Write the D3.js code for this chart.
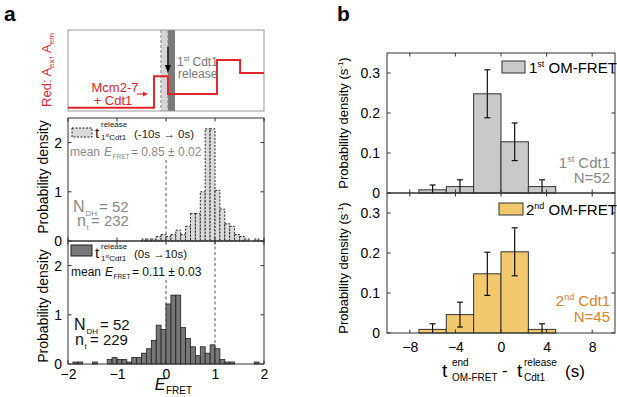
<!DOCTYPE html>
<html><head><meta charset="utf-8">
<script src="https://cdn.jsdelivr.net/npm/d3@7"></script>
<style>
html,body{margin:0;padding:0;background:#fff;}
svg{display:block;font-family:"Liberation Sans",Arial,sans-serif;}
</style></head>
<body><svg id="c" width="617" height="397"></svg>
<script>
// ---------- DATA ----------
// Panel a: E_FRET histograms (bin start, width 0.1)
const eBinStarts = [-2.0,-1.9,-1.8,-1.7,-1.6,-1.5,-1.4,-1.3,-1.2,-1.1,-1.0,-0.9,-0.8,-0.7,-0.6,-0.5,-0.4,-0.3,-0.2,-0.1,
                    0.0,0.1,0.2,0.3,0.4,0.5,0.6,0.7,0.8,0.9,1.0,1.1,1.2,1.3,1.4,1.5,1.6,1.7,1.8,1.9];
const eBinWidth = 0.1;
const densityBefore = [0,0,0,0,0,0,0,0,0,0,0,0,0,0,0,0.04,0.04,0.04,0.09,0.13,
                       0.09,0.13,0.22,0.13,0.30,0.56,0.56,1.00,2.28,2.28,1.03,0.65,0.35,0.30,0.13,0.09,0.04,0,0.04,0];
const densityAfter  = [0,0.04,0.04,0,0,0.04,0,0,0.09,0.13,0.09,0.09,0.04,0.13,0.13,0.22,0.31,0.48,0.79,0.70,
                       1.22,1.40,1.40,0.74,0.52,0.35,0.17,0.35,0.22,0.39,0.31,0.09,0.04,0.04,0,0,0,0,0.04,0];
const eTicks = [-2,-1,0,1,2];
const densTicksA = [0,1,2];
const refLines = [0,1];
// Schematic trace (arbitrary time units 0-100, level 0-1)
const traceT = [0,43.9,43.9,51,51,76,76,87.8,87.8,100];
const traceLevel = [0.04,0.04,0.43,0.43,0.21,0.21,0.63,0.63,0.47,0.47];
// Panel b: time-difference histograms (bin start, width 2.4 s)
const dtBinStarts = [-7.2,-4.8,-2.4,0,2.4];
const dtBinWidth = 2.4;
const firstDensity = [0.008,0.016,0.248,0.128,0.016];
const firstErr     = [0.012,0.017,0.060,0.047,0.017];
const secondDensity = [0.009,0.046,0.148,0.203,0.009];
const secondErr     = [0.014,0.031,0.054,0.060,0.014];
const dtTicks = [-8,-4,0,4,8];
const densTicksB = [0,0.1,0.2,0.3];

// ---------- DRAW ----------
const svg = d3.select("#c");
const RED = "#e3242b";

function txt(g, x, y, parts, opts={}) {
  const t = g.append("text").attr("x", x).attr("y", y)
    .attr("text-anchor", opts.anchor || "start")
    .attr("fill", opts.fill || "#000")
    .attr("font-size", opts.size || 14);
  if (opts.transform) t.attr("transform", opts.transform);
  parts.forEach(p => {
    const s = t.append("tspan").text(p.t);
    if (p.size) s.attr("font-size", p.size);
    if (p.dy) s.attr("dy", p.dy);
    if (p.italic) s.attr("font-style", "italic");
    if (p.fill) s.attr("fill", p.fill);
  });
  return t;
}

// Panel labels
txt(svg, 4, 21, [{t:"a"}], {size:21}).attr("font-weight","bold");
txt(svg, 337, 21, [{t:"b"}], {size:21}).attr("font-weight","bold");

// ---- Schematic ----
const sx = d3.scaleLinear([0,100],[68,264]);
const sy = d3.scaleLinear([0,1],[111,30]);
const sch = svg.append("g");
sch.append("rect").attr("x", sx(47.4)).attr("y", sy(1)).attr("width", sx(51)-sx(47.4)).attr("height", sy(0)-sy(1)).attr("fill","#d6d6d6");
sch.append("rect").attr("x", sx(51)).attr("y", sy(1)).attr("width", sx(54.6)-sx(51)).attr("height", sy(0)-sy(1)).attr("fill","#7a7a7a");
[47.4,51].forEach(v => sch.append("line").attr("x1",sx(v)).attr("x2",sx(v)).attr("y1",sy(1)).attr("y2",sy(0))
  .attr("stroke","#888").attr("stroke-dasharray","3,2"));
sch.append("rect").attr("x", sx(0)).attr("y", sy(1)).attr("width", sx(100)-sx(0)).attr("height", sy(0)-sy(1))
  .attr("fill","none").attr("stroke","#999").attr("stroke-width",1);
sch.append("path").datum(traceT.map((t,i)=>[t,traceLevel[i]]))
  .attr("d", d3.line().x(d=>sx(d[0])).y(d=>sy(d[1])))
  .attr("fill","none").attr("stroke",RED).attr("stroke-width",2);
sch.append("line").attr("x1",sx(51)).attr("x2",sx(51)).attr("y1",47).attr("y2",67).attr("stroke","#000").attr("stroke-width",1.3);
sch.append("path").attr("d",`M${sx(51)-3},65 L${sx(51)+3},65 L${sx(51)},73 Z`).attr("fill","#000");
txt(sch, 177, 66, [{t:"1",size:12},{t:"st",size:7,dy:-5},{t:" Cdt1",size:12,dy:5}], {fill:"#777"});
txt(sch, 178, 78, [{t:"release"}], {fill:"#777", size:12});
txt(sch, 115, 92, [{t:"Mcm2-7"}], {fill:RED, size:13, anchor:"middle"});
txt(sch, 113, 105, [{t:"+ Cdt1"}], {fill:RED, size:13, anchor:"middle"});
sch.append("line").attr("x1",137).attr("x2",145).attr("y1",94).attr("y2",94).attr("stroke",RED).attr("stroke-width",1.2);
sch.append("path").attr("d","M143,91.5 L148,94 L143,96.5 Z").attr("fill",RED);
txt(sch, 51, 70, [{t:"Red: A",size:13},{t:"ex",size:8,dy:3},{t:", A",size:13,dy:-3},{t:"em",size:8,dy:3}],
  {fill:RED, anchor:"middle", transform:"rotate(-90,51,70)"});

// ---- Panel a histograms ----
const xA = d3.scaleLinear([-2,2],[68,264]);
const yTop = d3.scaleLinear([0,2.5],[241,118]);
const yBot = d3.scaleLinear([0,2.5],[364,241]);
const gA = svg.append("g");

gA.append("line").attr("x1",xA(refLines[0])).attr("x2",xA(refLines[0])).attr("y1",160).attr("y2",yTop(0))
  .attr("stroke","#555").attr("stroke-dasharray","3,2.5");
gA.append("line").attr("x1",xA(refLines[0])).attr("x2",xA(refLines[0])).attr("y1",280).attr("y2",yBot(0))
  .attr("stroke","#555").attr("stroke-dasharray","3,2.5");
gA.append("line").attr("x1",xA(refLines[1])).attr("x2",xA(refLines[1])).attr("y1",yBot(2.5)).attr("y2",yBot(0))
  .attr("stroke","#555").attr("stroke-dasharray","3,2.5");

eBinStarts.forEach((s,i) => {
  const d = densityBefore[i]; if (!d) return;
  gA.append("rect").attr("x", xA(s)).attr("width", xA(s+eBinWidth)-xA(s))
    .attr("y", yTop(d)).attr("height", yTop(0)-yTop(d))
    .attr("fill","#dadada").attr("stroke","#222").attr("stroke-width",1).attr("stroke-dasharray","2,1.5");
});
eBinStarts.forEach((s,i) => {
  const d = densityAfter[i]; if (!d) return;
  gA.append("rect").attr("x", xA(s)).attr("width", xA(s+eBinWidth)-xA(s))
    .attr("y", yBot(d)).attr("height", yBot(0)-yBot(d))
    .attr("fill","#767676").attr("stroke","#222").attr("stroke-width",0.8);
});

function boxAxes(g, x, y, xt, yt, opts) {
  const [x0,x1] = x.range(), [y0,y1] = y.range();
  g.append("rect").attr("x",x0).attr("y",y1).attr("width",x1-x0).attr("height",y0-y1)
    .attr("fill","none").attr("stroke","#333").attr("stroke-width",1);
  const tl = 3.5;
  yt.forEach(v => {
    g.append("line").attr("x1",x0).attr("x2",x0+tl).attr("y1",y(v)).attr("y2",y(v)).attr("stroke","#333");
    g.append("line").attr("x1",x1).attr("x2",x1-tl).attr("y1",y(v)).attr("y2",y(v)).attr("stroke","#333");
  });
  xt.forEach(v => {
    g.append("line").attr("x1",x(v)).attr("x2",x(v)).attr("y1",y0).attr("y2",y0-tl).attr("stroke","#333");
    g.append("line").attr("x1",x(v)).attr("x2",x(v)).attr("y1",y1).attr("y2",y1+tl).attr("stroke","#333");
  });
  if (opts.yLabels) {
    const ax = g.append("g").attr("transform",`translate(${x0},0)`)
      .call(d3.axisLeft(y).tickValues(yt).tickSize(0).tickPadding(opts.yPad||6).tickFormat(opts.yFmt||d3.format("")));
    ax.select(".domain").remove();
    ax.selectAll("text").attr("font-size",opts.fs||14).attr("font-family","Liberation Sans, Arial").attr("fill","#000");
  }
  if (opts.xLabels) {
    const ax = g.append("g").attr("transform",`translate(0,${y0})`)
      .call(d3.axisBottom(x).tickValues(xt).tickSize(0).tickPadding(opts.xPad||5).tickFormat(d3.format("")));
    ax.select(".domain").remove();
    ax.selectAll("text").attr("font-size",opts.fs||14).attr("font-family","Liberation Sans, Arial").attr("fill","#000");
  }
}
boxAxes(gA, xA, yTop, eTicks, densTicksA, {yLabels:true});
boxAxes(gA, xA, yBot, eTicks, densTicksA, {yLabels:true, xLabels:true});

txt(gA, 160, 390, [{t:"E",italic:true,size:16}], {anchor:"middle"});
txt(gA, 166, 394, [{t:"FRET",size:10}], {anchor:"start"});
txt(gA, 48, yTop(1.3), [{t:"Probability density"}], {anchor:"middle", size:14, transform:`rotate(-90,48,${yTop(1.3)})`});
txt(gA, 48, yBot(1.18), [{t:"Probability density"}], {anchor:"middle", size:14, transform:`rotate(-90,48,${yBot(1.18)})`});

// top legend
gA.append("rect").attr("x",72).attr("y",128).attr("width",20).attr("height",9)
  .attr("fill","#dadada").attr("stroke","#222").attr("stroke-dasharray","2,1.5");
txt(gA, 95, 138, [{t:"t"}], {size:15, fill:"#222"});
txt(gA, 101, 127, [{t:"release"}], {size:8, fill:"#222"});
txt(gA, 101, 140, [{t:"1",size:8},{t:"st",size:5,dy:-3},{t:"Cdt1",size:8,dy:3}], {fill:"#222"});
txt(gA, 134, 138, [{t:"(-10s → 0s)"}], {size:11.5, fill:"#222"});
txt(gA, 70, 156, [{t:"mean"}], {fill:"#8a8a8a", size:12});
txt(gA, 104, 156, [{t:"E"}], {fill:"#8a8a8a", size:12}).attr("font-style","italic");
txt(gA, 112.5, 159, [{t:"FRET"}], {fill:"#8a8a8a", size:6.5});
txt(gA, 131, 156, [{t:"= 0.85 ± 0.02"}], {fill:"#8a8a8a", size:12});
txt(gA, 73, 212, [{t:"N"}], {fill:"#8a8a8a", size:16});
txt(gA, 85.5, 216, [{t:"DH"}], {fill:"#8a8a8a", size:8});
txt(gA, 99, 212, [{t:"= 52"}], {fill:"#8a8a8a", size:15});
txt(gA, 77, 226, [{t:"n"}], {fill:"#8a8a8a", size:16});
txt(gA, 86.5, 230, [{t:"t"}], {fill:"#8a8a8a", size:8});
txt(gA, 91, 226, [{t:"= 232"}], {fill:"#8a8a8a", size:15});

// bottom legend
gA.append("rect").attr("x",71).attr("y",245).attr("width",21).attr("height",11)
  .attr("fill","#767676").attr("stroke","#222");
txt(gA, 95, 258, [{t:"t"}], {size:15, fill:"#111"});
txt(gA, 101, 249, [{t:"release"}], {size:8, fill:"#111"});
txt(gA, 101, 261, [{t:"1",size:8},{t:"st",size:5,dy:-3},{t:"Cdt1",size:8,dy:3}], {fill:"#111"});
txt(gA, 134, 258, [{t:"(0s →10s)"}], {size:11.5, fill:"#111"});
txt(gA, 71, 276, [{t:"mean"}], {fill:"#111", size:12});
txt(gA, 105, 276, [{t:"E"}], {fill:"#111", size:12}).attr("font-style","italic");
txt(gA, 113.5, 279, [{t:"FRET"}], {fill:"#111", size:6.5});
txt(gA, 132, 276, [{t:"= 0.11 ± 0.03"}], {fill:"#111", size:12});
txt(gA, 74, 330, [{t:"N"}], {fill:"#111", size:16});
txt(gA, 86.5, 334, [{t:"DH"}], {fill:"#111", size:8});
txt(gA, 100, 330, [{t:"= 52"}], {fill:"#111", size:15});
txt(gA, 75, 345, [{t:"n"}], {fill:"#111", size:16});
txt(gA, 84.5, 349, [{t:"t"}], {fill:"#111", size:8});
txt(gA, 90, 345, [{t:"= 229"}], {fill:"#111", size:15});

// ---- Panel b ----
const xB = d3.scaleLinear([-10,10],[387,615]);
const yBT = d3.scaleLinear([0,0.35],[193,53]);
const yBB = d3.scaleLinear([0,0.35],[333,193]);
const gB = svg.append("g");

function bars(y, dens, err, fill) {
  dtBinStarts.forEach((s,i) => {
    gB.append("rect").attr("x", xB(s)).attr("width", xB(s+dtBinWidth)-xB(s))
      .attr("y", y(dens[i])).attr("height", y(0)-y(dens[i]))
      .attr("fill", fill).attr("stroke","#333").attr("stroke-width",1);
  });
  dtBinStarts.forEach((s,i) => {
    const cx = xB(s+dtBinWidth/2);
    const hi = dens[i]+err[i], lo = Math.max(0, dens[i]-err[i]);
    gB.append("line").attr("x1",cx).attr("x2",cx).attr("y1",y(hi)).attr("y2",y(lo)).attr("stroke","#111").attr("stroke-width",1.2);
    gB.append("line").attr("x1",cx-3).attr("x2",cx+3).attr("y1",y(hi)).attr("y2",y(hi)).attr("stroke","#111").attr("stroke-width",1.2);
    if (dens[i]-err[i] > 0)
      gB.append("line").attr("x1",cx-3).attr("x2",cx+3).attr("y1",y(lo)).attr("y2",y(lo)).attr("stroke","#111").attr("stroke-width",1.2);
  });
}
bars(yBT, firstDensity, firstErr, "#c9c9c9");
bars(yBB, secondDensity, secondErr, "#f2c86c");
const fmtB = d => d===0 ? "0" : d3.format(".1f")(d);
boxAxes(gB, xB, yBT, dtTicks, densTicksB, {yLabels:true, yFmt:fmtB, yPad:7, fs:14});
boxAxes(gB, xB, yBB, dtTicks, densTicksB, {yLabels:true, xLabels:true, yFmt:fmtB, yPad:7, xPad:9, fs:14});

[[yBT,123],[yBB,268]].forEach(([y,cy]) => {
  txt(gB, 348, cy, [{t:"Probability density (s",size:13},{t:"-1",size:8,dy:-5},{t:")",size:13,dy:5}],
    {anchor:"middle", transform:`rotate(-90,348,${cy})`});
});

gB.append("rect").attr("x",502).attr("y",61).attr("width",23).attr("height",12).attr("fill","#c9c9c9").attr("stroke","#333");
txt(gB, 529, 73, [{t:"1",size:15},{t:"st",size:9,dy:-6},{t:" OM-FRET",size:15,dy:6}]);
gB.append("rect").attr("x",499).attr("y",203).attr("width",24).attr("height",12).attr("fill","#f2c86c").attr("stroke","#333");
txt(gB, 526, 215, [{t:"2",size:15},{t:"nd",size:9,dy:-6},{t:" OM-FRET",size:15,dy:6}]);

txt(gB, 610, 168, [{t:"1",size:15},{t:"st",size:9,dy:-6},{t:" Cdt1",size:15,dy:6}], {anchor:"end", fill:"#888"});
txt(gB, 610, 183, [{t:"N=52"}], {anchor:"end", fill:"#888", size:15});
txt(gB, 610, 306, [{t:"2",size:15},{t:"nd",size:9,dy:-6},{t:" Cdt1",size:15,dy:6}], {anchor:"end", fill:"#d9822b"});
txt(gB, 610, 322, [{t:"N=45"}], {anchor:"end", fill:"#d9822b", size:15});

txt(gB, 442, 377, [{t:"t"}], {size:19});
txt(gB, 452, 366, [{t:"end"}], {size:10});
txt(gB, 452, 381, [{t:"OM-FRET"}], {size:10});
txt(gB, 502, 376, [{t:"-"}], {size:17});
txt(gB, 517, 377, [{t:"t"}], {size:19});
txt(gB, 524, 366, [{t:"release"}], {size:10});
txt(gB, 524, 381, [{t:"Cdt1"}], {size:10});
txt(gB, 565, 377, [{t:"(s)"}], {size:17});
</script></body></html>
